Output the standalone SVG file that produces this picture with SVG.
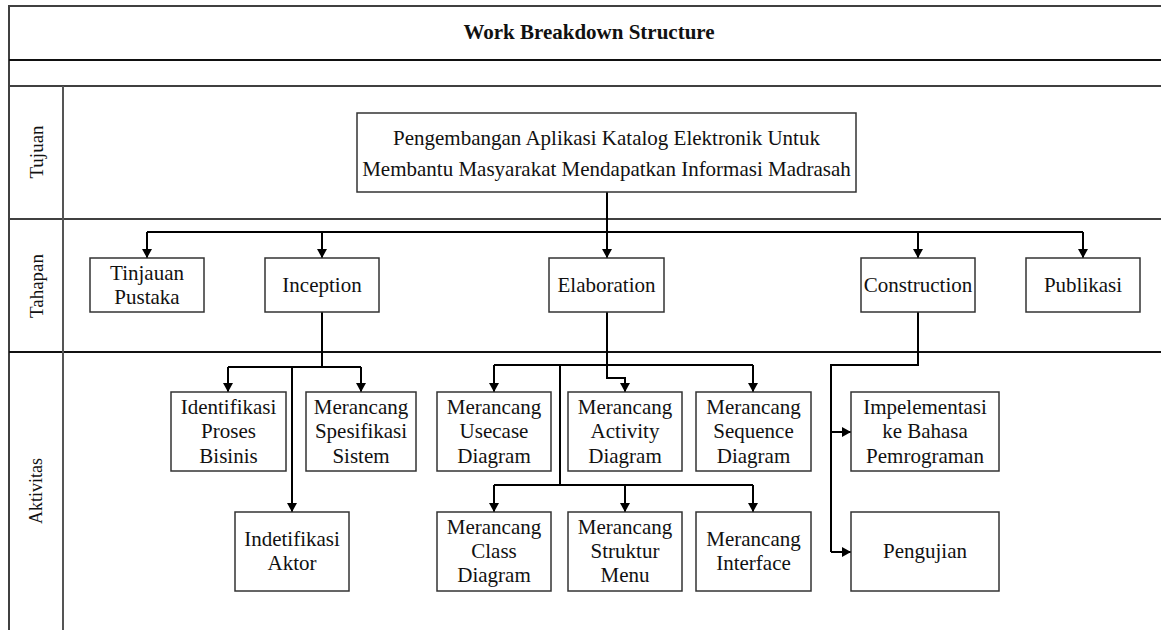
<svg xmlns="http://www.w3.org/2000/svg" width="1161" height="630" viewBox="0 0 1161 630">
<defs>
<marker id="arr" markerUnits="userSpaceOnUse" markerWidth="11" markerHeight="10" refX="9" refY="5" orient="auto">
<path d="M0,0 L9,5 L0,10 Z" fill="#000"/>
</marker>
<style>
.frame{stroke:#404040;stroke-width:2;fill:none}
.box{fill:#fff;stroke:#333;stroke-width:1.5}
text{font-family:'Liberation Serif','Times New Roman',Tinos,Times,'DejaVu Serif',serif}
.t{font-size:21px;fill:#111;text-anchor:middle}
.side{font-size:19px;fill:#111;text-anchor:middle}
.c{stroke:#000;stroke-width:2;fill:none}
.ca{stroke:#000;stroke-width:2;fill:none;marker-end:url(#arr)}
</style>
</defs>
<rect width="1161" height="630" fill="#fff"/>
<g id="frame">
<line class="frame" x1="9" y1="6" x2="1161" y2="6"/>
<line class="frame" x1="9" y1="5" x2="9" y2="630"/>
<line class="frame" x1="9" y1="60" x2="1161" y2="60" style="stroke:#111"/>
<line class="frame" x1="9" y1="86" x2="1161" y2="86"/>
<line class="frame" x1="9" y1="219" x2="1161" y2="219"/>
<line class="frame" x1="9" y1="352" x2="1161" y2="352" style="stroke:#111"/>
<line class="frame" x1="63" y1="86" x2="63" y2="630" style="stroke:#555"/>
<text x="589" y="39" class="t" font-weight="bold" font-family="Liberation Serif, serif">Work Breakdown Structure</text>
<text class="side" transform="translate(43,152) rotate(-90)" font-family="Liberation Serif, serif">Tujuan</text>
<text class="side" transform="translate(43,286) rotate(-90)" font-family="Liberation Serif, serif">Tahapan</text>
<text class="side" transform="translate(42,491) rotate(-90)" style="font-size:18px" font-family="Liberation Serif, serif">Aktivitas</text>
</g>
<g id="connectors">
<path class="c" d="M607,192 V232"/>
<path class="c" d="M147,232 H1083"/>
<path class="ca" d="M147,232 V258"/>
<path class="ca" d="M322,232 V258"/>
<path class="ca" d="M607,232 V258"/>
<path class="ca" d="M918,232 V258"/>
<path class="ca" d="M1083,232 V258"/>
<path class="c" d="M322,312 V367"/>
<path class="c" d="M228,367 H361"/>
<path class="ca" d="M228,367 V392"/>
<path class="ca" d="M361,367 V392"/>
<path class="ca" d="M292,367 V512"/>
<path class="c" d="M607,312 V365"/>
<path class="c" d="M494,365 H753"/>
<path class="ca" d="M494,365 V392"/>
<path class="ca" d="M753,365 V392"/>
<path class="ca" d="M607,365 V378 H625 V392"/>
<path class="c" d="M560,365 V485"/>
<path class="c" d="M494,485 H753"/>
<path class="ca" d="M494,485 V512"/>
<path class="ca" d="M625,485 V512"/>
<path class="ca" d="M753,485 V512"/>
<path class="c" d="M918,312 V365 H831 V552"/>
<path class="ca" d="M831,432 H851"/>
<path class="ca" d="M831,552 H851"/>
</g>
<g id="goal">
<rect class="box" x="357" y="113" width="499" height="79"/>
<text class="t" x="606.5" y="145">Pengembangan Aplikasi Katalog Elektronik Untuk</text>
<text class="t" x="606.5" y="176">Membantu Masyarakat Mendapatkan Informasi Madrasah</text>
</g>
<g id="tinjauan">
<rect class="box" x="90" y="258" width="114" height="54"/>
<text class="t" x="147" y="280">Tinjauan</text>
<text class="t" x="147" y="304">Pustaka</text>
</g>
<g id="inception">
<rect class="box" x="265" y="258" width="114" height="54"/>
<text class="t" x="322" y="292">Inception</text>
</g>
<g id="elaboration">
<rect class="box" x="549" y="258" width="115" height="54"/>
<text class="t" x="606.5" y="292">Elaboration</text>
</g>
<g id="construction">
<rect class="box" x="861" y="258" width="114" height="54"/>
<text class="t" x="918" y="292">Construction</text>
</g>
<g id="publikasi">
<rect class="box" x="1026" y="258" width="114" height="54"/>
<text class="t" x="1083" y="292">Publikasi</text>
</g>
<g id="identifikasi">
<rect class="box" x="171" y="392" width="115" height="79"/>
<text class="t" x="228.5" y="414">Identifikasi</text>
<text class="t" x="228.5" y="438">Proses</text>
<text class="t" x="228.5" y="463">Bisinis</text>
</g>
<g id="spesifikasi">
<rect class="box" x="306" y="392" width="110" height="79"/>
<text class="t" x="361" y="414">Merancang</text>
<text class="t" x="361" y="438">Spesifikasi</text>
<text class="t" x="361" y="463">Sistem</text>
</g>
<g id="aktor">
<rect class="box" x="235" y="512" width="114" height="79"/>
<text class="t" x="292" y="546">Indetifikasi</text>
<text class="t" x="292" y="570">Aktor</text>
</g>
<g id="usecase">
<rect class="box" x="437" y="392" width="114" height="79"/>
<text class="t" x="494" y="414">Merancang</text>
<text class="t" x="494" y="438">Usecase</text>
<text class="t" x="494" y="463">Diagram</text>
</g>
<g id="activity">
<rect class="box" x="568" y="392" width="114" height="79"/>
<text class="t" x="625" y="414">Merancang</text>
<text class="t" x="625" y="438">Activity</text>
<text class="t" x="625" y="463">Diagram</text>
</g>
<g id="sequence">
<rect class="box" x="696" y="392" width="115" height="79"/>
<text class="t" x="753.5" y="414">Merancang</text>
<text class="t" x="753.5" y="438">Sequence</text>
<text class="t" x="753.5" y="463">Diagram</text>
</g>
<g id="class">
<rect class="box" x="437" y="512" width="114" height="79"/>
<text class="t" x="494" y="534">Merancang</text>
<text class="t" x="494" y="558">Class</text>
<text class="t" x="494" y="582">Diagram</text>
</g>
<g id="struktur">
<rect class="box" x="568" y="512" width="114" height="79"/>
<text class="t" x="625" y="534">Merancang</text>
<text class="t" x="625" y="558">Struktur</text>
<text class="t" x="625" y="582">Menu</text>
</g>
<g id="interface">
<rect class="box" x="696" y="512" width="115" height="79"/>
<text class="t" x="753.5" y="546">Merancang</text>
<text class="t" x="753.5" y="570">Interface</text>
</g>
<g id="implementasi">
<rect class="box" x="851" y="392" width="148" height="79"/>
<text class="t" x="925" y="414">Impelementasi</text>
<text class="t" x="925" y="438">ke Bahasa</text>
<text class="t" x="925" y="463">Pemrograman</text>
</g>
<g id="pengujian">
<rect class="box" x="851" y="512" width="148" height="79"/>
<text class="t" x="925" y="558">Pengujian</text>
</g>
</svg>
